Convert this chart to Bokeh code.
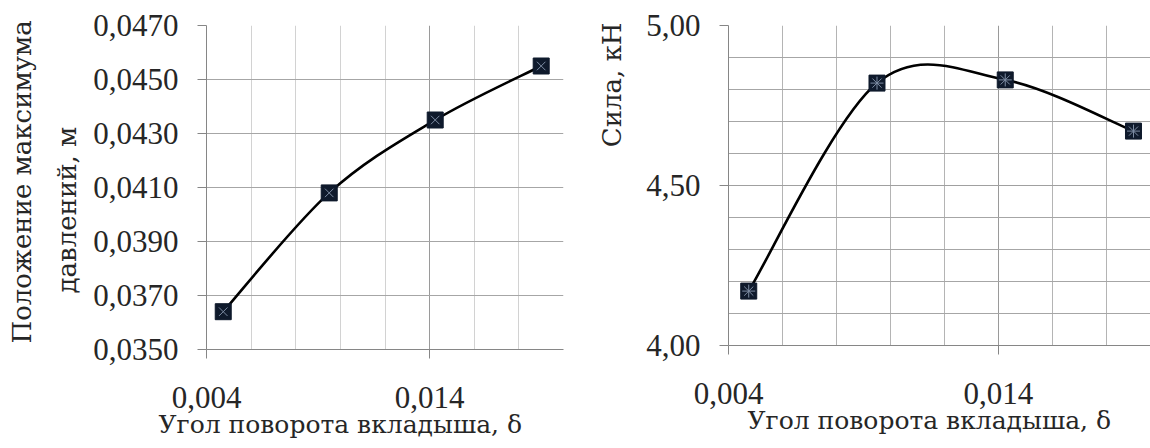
import numpy as np
from bokeh.plotting import figure
from bokeh.models import FixedTicker, Range1d, Title
from bokeh.layouts import row
from bokeh.embed import file_html
from bokeh.resources import INLINE

# ---- data ----
delta = [0.00475, 0.0095, 0.01425, 0.019]
pos_max = [0.0364, 0.0408, 0.0435, 0.0455]
force = [4.17, 4.82, 4.83, 4.67]

x_major = [0.004, 0.014]
x_major_labels = ["0,004", "0,014"]
x_minor = [0.006, 0.008, 0.010, 0.012, 0.016, 0.018, 0.020]

y1_ticks = [0.035, 0.037, 0.039, 0.041, 0.043, 0.045, 0.047]
y1_labels = ["0,0350", "0,0370", "0,0390", "0,0410", "0,0430", "0,0450", "0,0470"]

y2_ticks = [4.0, 4.5, 5.0]
y2_labels = ["4,00", "4,50", "5,00"]
y2_minor = [4.1, 4.2, 4.3, 4.4, 4.6, 4.7, 4.8, 4.9]

x_title = "Угол поворота вкладыша, δ"
y1_title_1 = "Положение максимума"
y1_title_2 = "давлений, м"
y2_title = "Сила, кН"

FONT = "Liberation Serif"
TFONT = "DejaVu Serif"
FS = "31px"
TFS = "26px"
XFS = "25px"
TXT = "#262626"
AX = "#868686"


def bezier_segments(xs, ys):
    n = len(xs)
    out = {k: [] for k in ["x0", "y0", "x1", "y1", "cx0", "cy0", "cx1", "cy1"]}
    for i in range(n - 1):
        i0 = max(i - 1, 0)
        i3 = min(i + 2, n - 1)
        out["x0"].append(xs[i]); out["y0"].append(ys[i])
        out["x1"].append(xs[i + 1]); out["y1"].append(ys[i + 1])
        out["cx0"].append(xs[i] + (xs[i + 1] - xs[i0]) / 6)
        out["cy0"].append(ys[i] + (ys[i + 1] - ys[i0]) / 6)
        out["cx1"].append(xs[i + 1] - (xs[i3] - xs[i]) / 6)
        out["cy1"].append(ys[i + 1] - (ys[i3] - ys[i]) / 6)
    return out


def title(text, size=TFS, **kw):
    return Title(text=text, text_font=TFONT, text_font_size=size, text_color=TXT,
                 text_font_style="normal", **kw)


def make_fig(frame_w, frame_h, left, top, right, bottom, xr, yr):
    p = figure(frame_width=frame_w, frame_height=frame_h,
               min_border_left=left, min_border_top=top,
               min_border_right=right, min_border_bottom=bottom,
               x_range=xr, y_range=yr, output_backend="svg",
               toolbar_location=None, tools="")
    p.outline_line_color = None
    p.background_fill_color = "white"
    p.border_fill_color = "white"
    for ax in (p.xaxis, p.yaxis):
        ax.axis_line_color = AX
        ax.major_tick_line_color = AX
        ax.major_tick_in = 0
        ax.major_tick_out = 9
        ax.minor_tick_line_color = None
        ax.major_label_text_font = FONT
        ax.major_label_text_font_size = FS
        ax.major_label_text_color = TXT
    xt = FixedTicker(ticks=x_major, minor_ticks=x_minor)
    p.xaxis.ticker = xt
    p.xgrid.ticker = xt
    p.xaxis.major_label_overrides = dict(zip(x_major, x_major_labels))
    p.xaxis.major_label_standoff = 28
    return p


# ---- left chart ----
p1 = make_fig(357, 324, 198, 21, 15, 95, Range1d(0.004, 0.020), Range1d(0.035, 0.047))
yt1 = FixedTicker(ticks=y1_ticks)
p1.yaxis.ticker = yt1
p1.ygrid.ticker = yt1
p1.yaxis.major_label_overrides = dict(zip(y1_ticks, y1_labels))
p1.yaxis.major_label_standoff = 19
p1.ygrid.grid_line_color = "#a6a6a6"
p1.xgrid.grid_line_color = "#9a9a9a"
p1.xgrid.minor_grid_line_color = "#d2d2d2"

s1 = bezier_segments(delta, pos_max)
p1.bezier(x0=s1["x0"], y0=s1["y0"], x1=s1["x1"], y1=s1["y1"],
          cx0=s1["cx0"], cy0=s1["cy0"], cx1=s1["cx1"], cy1=s1["cy1"],
          line_color="black", line_width=2.6)
p1.scatter(delta, pos_max, marker="square", size=16, fill_color="#0f1a2c", line_color="#0f1a2c")
p1.scatter(delta, pos_max, marker="x", size=12, line_color="#7d8ca3", line_width=1)

p1.add_layout(title(y1_title_2, align="left", offset=56, standoff=18), "left")
p1.add_layout(title(y1_title_1, align="left", offset=6, standoff=8), "left")
p1.add_layout(title(x_title, size=XFS, align="left", offset=-48, standoff=-5), "below")

# ---- right chart ----
p2 = make_fig(422, 320, 150, 25, 0, 95, Range1d(0.004, 0.01963), Range1d(4.0, 5.0))
yt2 = FixedTicker(ticks=y2_ticks, minor_ticks=y2_minor)
p2.yaxis.ticker = yt2
p2.ygrid.ticker = yt2
p2.yaxis.major_label_overrides = dict(zip(y2_ticks, y2_labels))
p2.yaxis.major_label_standoff = 19
p2.yaxis.axis_label = "\u00a0"
p2.yaxis.axis_label_text_font_size = "1px"
p2.yaxis.axis_label_standoff = 9
p2.ygrid.grid_line_color = "#a0a0a0"
p2.ygrid.minor_grid_line_color = "#a6a6a6"
p2.xgrid.grid_line_color = "#9a9a9a"
p2.xgrid.minor_grid_line_color = "#b4b4b4"

s2 = bezier_segments(delta, force)
p2.bezier(x0=s2["x0"], y0=s2["y0"], x1=s2["x1"], y1=s2["y1"],
          cx0=s2["cx0"], cy0=s2["cy0"], cx1=s2["cx1"], cy1=s2["cy1"],
          line_color="black", line_width=2.6)
p2.scatter(delta, force, marker="square", size=16, fill_color="#0f1a2c", line_color="#0f1a2c")
p2.scatter(delta, force, marker="asterisk", size=13, line_color="#7d8ca3", line_width=1)

p2.add_layout(title(y2_title, align="right", offset=-3, standoff=8), "left")
p2.add_layout(title(x_title, size=XFS, align="left", offset=19, standoff=-5), "below")

layout = row(p1, p2)
open("out.html", "w").write(file_html(layout, INLINE))
